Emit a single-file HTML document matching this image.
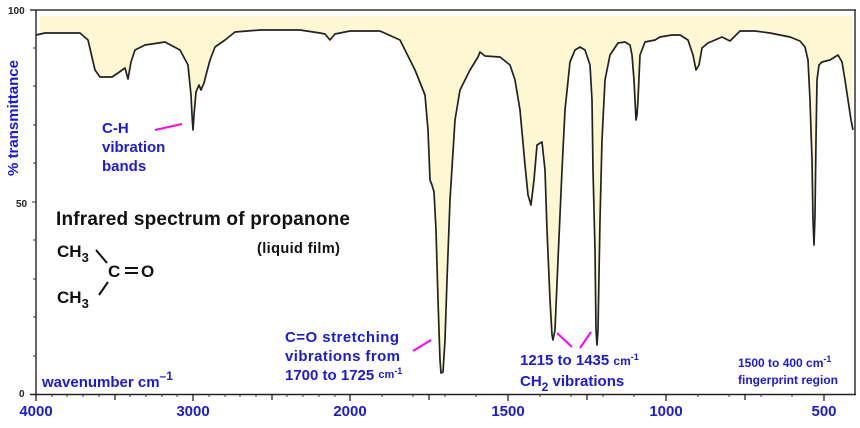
<!DOCTYPE html>
<html><head><meta charset="utf-8"><style>
body{margin:0;background:#fff;width:860px;height:423px;overflow:hidden}
svg text{font-family:"Liberation Sans",Arial,sans-serif;font-weight:bold}
</style></head><body>
<svg width="860" height="423" viewBox="0 0 860 423" xmlns="http://www.w3.org/2000/svg">
<defs>
<clipPath id="c"><rect x="40" y="16" width="812" height="380"/></clipPath>
</defs>
<polygon clip-path="url(#c)" fill="#fdf8d2" points="36,16 36,35 45,33 80,33 88,40 95,70 100,77 112,77 118,73 125,68 128,79 131,62 135,50 145,45 165,42 180,50 188,65 191,95 192,115 193,130 194,115 196,92 199,85 201,90 204,83 206,75 210,60 215,47 225,40 235,32 260,30 300,30 320,33 325,34 330,40 335,34 350,31 380,31 400,40 415,70 425,95 428,130 430,180 432,185 434,192 436,230 438,300 440,360 441,373 443,372 445,340 447,280 450,200 455,120 460,90 470,70 478,57 480,52 485,56 500,57 510,65 515,80 520,110 525,165 528,195 531,205 534,180 537,145 542,142 545,170 547,230 550,300 552,335 553,340 555,330 558,260 562,170 565,110 570,62 575,50 580,47 585,50 590,65 592,100 593,170 595,250 596,330 597,345 598,330 600,220 602,140 605,80 610,55 618,43 625,42 630,45 632,55 634,80 636,120 637,115 638,100 640,55 645,42 655,40 660,37 672,35 680,35 688,40 693,55 696,70 699,65 702,48 708,43 715,40 722,37 730,41 733,38 740,31 755,31 770,33 790,37 800,41 805,47 808,60 810,100 812,160 813,220 814,245 815,215 816,140 817,80 819,65 822,62 830,60 838,55 842,62 845,80 848,100 851,120 853,130 853,16"/>
<polyline fill="none" stroke="#222" stroke-width="1.7" stroke-linejoin="round" points="36,35 45,33 80,33 88,40 95,70 100,77 112,77 118,73 125,68 128,79 131,62 135,50 145,45 165,42 180,50 188,65 191,95 192,115 193,130 194,115 196,92 199,85 201,90 204,83 206,75 210,60 215,47 225,40 235,32 260,30 300,30 320,33 325,34 330,40 335,34 350,31 380,31 400,40 415,70 425,95 428,130 430,180 432,185 434,192 436,230 438,300 440,360 441,373 443,372 445,340 447,280 450,200 455,120 460,90 470,70 478,57 480,52 485,56 500,57 510,65 515,80 520,110 525,165 528,195 531,205 534,180 537,145 542,142 545,170 547,230 550,300 552,335 553,340 555,330 558,260 562,170 565,110 570,62 575,50 580,47 585,50 590,65 592,100 593,170 595,250 596,330 597,345 598,330 600,220 602,140 605,80 610,55 618,43 625,42 630,45 632,55 634,80 636,120 637,115 638,100 640,55 645,42 655,40 660,37 672,35 680,35 688,40 693,55 696,70 699,65 702,48 708,43 715,40 722,37 730,41 733,38 740,31 755,31 770,33 790,37 800,41 805,47 808,60 810,100 812,160 813,220 814,245 815,215 816,140 817,80 819,65 822,62 830,60 838,55 842,62 845,80 848,100 851,120 853,130"/>
<line x1="30" y1="10" x2="856" y2="10" stroke="#333" stroke-width="1.5"/>
<line x1="36" y1="10" x2="36" y2="395" stroke="#333" stroke-width="1.5"/>
<line x1="855" y1="10" x2="855" y2="395" stroke="#333" stroke-width="1.5"/>
<line x1="30" y1="394.5" x2="856" y2="394.5" stroke="#222" stroke-width="1.5"/>
<g stroke="#333" stroke-width="1">
<line x1="33" y1="48" x2="36" y2="48"/><line x1="33" y1="86" x2="36" y2="86"/><line x1="33" y1="125" x2="36" y2="125"/><line x1="33" y1="163" x2="36" y2="163"/><line x1="32" y1="202" x2="36" y2="202"/><line x1="33" y1="240" x2="36" y2="240"/><line x1="33" y1="279" x2="36" y2="279"/><line x1="33" y1="317" x2="36" y2="317"/><line x1="33" y1="356" x2="36" y2="356"/>
</g>
<g stroke="#222" stroke-width="1.3">
<line x1="36" y1="394" x2="36" y2="401"/><line x1="115" y1="394" x2="115" y2="400"/><line x1="193" y1="394" x2="193" y2="401"/><line x1="272" y1="394" x2="272" y2="400"/><line x1="350" y1="394" x2="350" y2="401"/><line x1="429" y1="394" x2="429" y2="400"/><line x1="508" y1="394" x2="508" y2="401"/><line x1="587" y1="394" x2="587" y2="400"/><line x1="666" y1="394" x2="666" y2="401"/><line x1="745" y1="394" x2="745" y2="400"/><line x1="824" y1="394" x2="824" y2="401"/>
</g>
<g stroke="#333" stroke-width="1">
<line x1="52" y1="394" x2="52" y2="397"/><line x1="67" y1="394" x2="67" y2="397"/><line x1="83" y1="394" x2="83" y2="397"/><line x1="99" y1="394" x2="99" y2="397"/><line x1="130" y1="394" x2="130" y2="397"/><line x1="146" y1="394" x2="146" y2="397"/><line x1="162" y1="394" x2="162" y2="397"/><line x1="177" y1="394" x2="177" y2="397"/><line x1="209" y1="394" x2="209" y2="397"/><line x1="225" y1="394" x2="225" y2="397"/><line x1="240" y1="394" x2="240" y2="397"/><line x1="256" y1="394" x2="256" y2="397"/><line x1="287" y1="394" x2="287" y2="397"/><line x1="303" y1="394" x2="303" y2="397"/><line x1="319" y1="394" x2="319" y2="397"/><line x1="335" y1="394" x2="335" y2="397"/><line x1="382" y1="394" x2="382" y2="397"/><line x1="413" y1="394" x2="413" y2="397"/><line x1="445" y1="394" x2="445" y2="397"/><line x1="476" y1="394" x2="476" y2="397"/><line x1="540" y1="394" x2="540" y2="397"/><line x1="571" y1="394" x2="571" y2="397"/><line x1="603" y1="394" x2="603" y2="397"/><line x1="634" y1="394" x2="634" y2="397"/><line x1="698" y1="394" x2="698" y2="397"/><line x1="729" y1="394" x2="729" y2="397"/><line x1="761" y1="394" x2="761" y2="397"/><line x1="792" y1="394" x2="792" y2="397"/>
</g>
<text x="8" y="14" font-size="10" fill="#222">100</text>
<text x="16" y="207" font-size="10" fill="#222">50</text>
<text x="19" y="397" font-size="10" fill="#222">0</text>
<text transform="translate(18,118) rotate(-90)" text-anchor="middle" font-size="15" fill="#1a1adb">% transmittance</text>
<g font-size="15" fill="#1a1adb" text-anchor="middle">
<text x="36" y="416">4000</text><text x="193" y="416">3000</text><text x="350" y="416">2000</text><text x="508" y="416">1500</text><text x="666" y="416">1000</text><text x="824" y="416">500</text>
</g>
<text x="42" y="387" font-size="15" fill="#1a1adb">wavenumber  cm<tspan font-size="12" dy="-7">–1</tspan></text>
<g font-size="15" fill="#1a1adb">
<text x="102" y="133">C-H</text><text x="102" y="152">vibration</text><text x="102" y="171">bands</text>
<text x="285" y="342" textLength="114">C=O stretching</text><text x="285" y="361" textLength="115">vibrations from</text><text x="285" y="380">1700 to 1725 <tspan font-size="11" dy="-2">cm</tspan><tspan font-size="9" dy="-4">-1</tspan></text>
<text x="520" y="365">1215 to 1435 <tspan font-size="12" dy="0">cm</tspan><tspan font-size="9" dy="-5">-1</tspan></text>
<text x="520" y="386">CH<tspan font-size="12" dy="5">2</tspan><tspan dy="-5"> vibrations</tspan></text>
</g>
<g font-size="12" fill="#1a1adb">
<text x="738" y="367">1500 to 400 cm<tspan font-size="9" dy="-5">-1</tspan></text>
<text x="738" y="384">fingerprint region</text>
</g>
<g stroke="#ff00ff" stroke-width="2">
<line x1="155" y1="130" x2="182" y2="124"/>
<line x1="413" y1="351" x2="431" y2="340"/>
<line x1="557" y1="333" x2="572" y2="347"/>
<line x1="580" y1="348" x2="591" y2="332"/>
</g>
<text x="56" y="225" font-size="19" fill="#111" textLength="294">Infrared spectrum of propanone</text>
<text x="257" y="253" font-size="14.5" fill="#111" textLength="83">(liquid film)</text>
<g font-size="17" fill="#111">
<text x="57" y="257">CH<tspan font-size="13" dy="5">3</tspan></text>
<text x="108" y="277">C</text><text x="141" y="277">O</text>
<text x="57" y="303">CH<tspan font-size="13" dy="5">3</tspan></text>
</g>
<g stroke="#111" stroke-width="2">
<line x1="96" y1="250" x2="107" y2="263"/>
<line x1="108" y1="282" x2="99" y2="295"/>
<line x1="125" y1="268" x2="138" y2="268"/><line x1="125" y1="273" x2="138" y2="273"/>
</g>
</svg>
</body></html>
